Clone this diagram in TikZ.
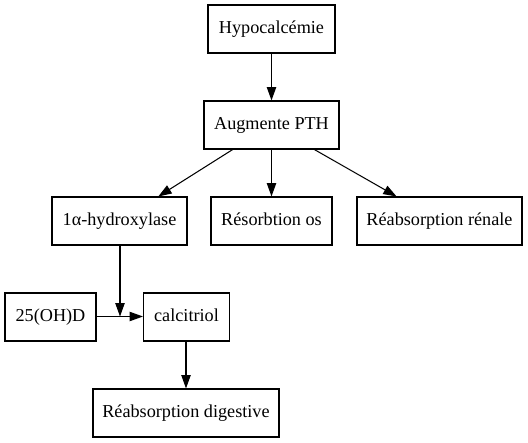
\documentclass[tikz,border=0pt]{standalone}
\usepackage{fontspec}
\setmainfont{Liberation Serif}
\usetikzlibrary{arrows.meta}
\begin{document}
\begin{tikzpicture}[x=1bp,y=-1bp,
  box/.style={draw,line width=1.05bp,inner sep=0pt,minimum height=48bp,
    font=\fontsize{18.2bp}{22bp}\selectfont,text height=13bp,text depth=4bp},
  arr/.style={line width=1.05bp,-{Triangle[length=13.3bp,width=9.3bp]}},
  ln/.style={line width=1.05bp}]
\useasboundingbox (0,0) rectangle (528,443);
\node[box,minimum width=127bp] (hypo) at (271.5,29) {Hypocalcémie};
\node[box,minimum width=135bp] (pth) at (271.5,125) {Augmente PTH};
\node[box,minimum width=135bp] (hyd) at (119.5,221) {1α-hydroxylase};
\node[box,minimum width=121bp] (os) at (271.5,221) {Résorbtion os};
\node[box,minimum width=165bp] (ren) at (439.5,221) {Réabsorption rénale};
\node[box,minimum width=91bp] (ohd) at (50.5,317) {25(OH)D};
\node[box,minimum width=86bp] (cal) at (186.5,317) {calcitriol};
\node[box,minimum width=186bp] (dig) at (186,413) {Réabsorption digestive};
\coordinate (j) at (120,316.5);
\draw[arr] (hypo) -- (pth);
\draw[arr] (pth) -- (hyd);
\draw[arr] (pth) -- (os);
\draw[arr] (pth) -- (ren);
\draw[arr] (hyd.south -| j) -- (j);
\draw[ln] (ohd.east |- j) -- (j);
\draw[arr] (j) -- (cal.west |- j);
\draw[arr] (cal.south -| dig.north) -- (dig.north);
\end{tikzpicture}
\end{document}
